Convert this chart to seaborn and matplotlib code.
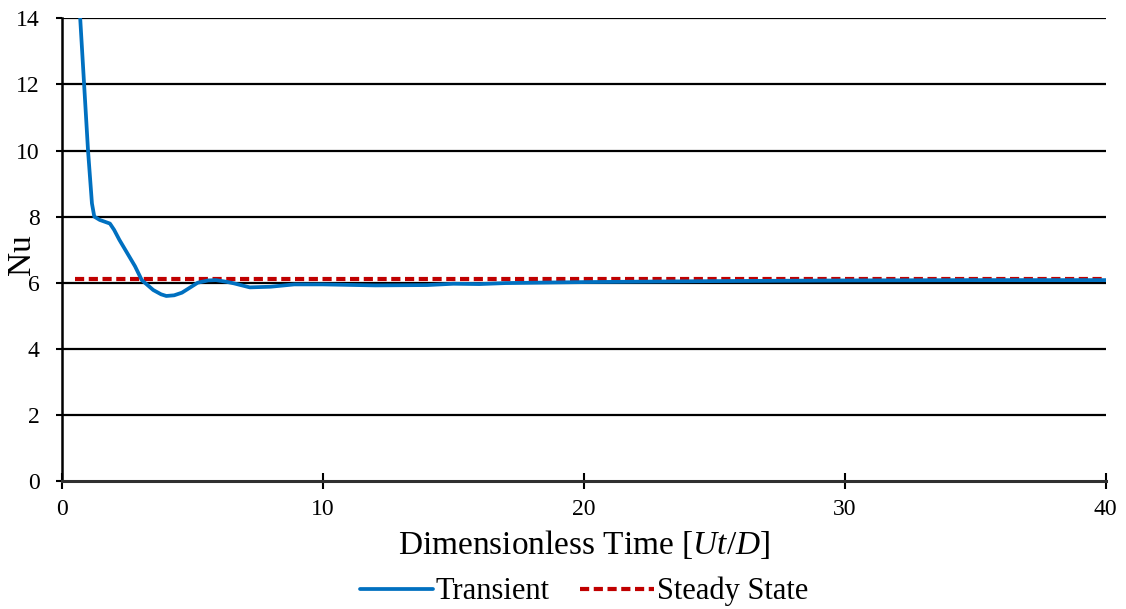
import pandas as pd
import matplotlib
matplotlib.use('Agg')
import matplotlib.pyplot as plt
import seaborn as sns

# values
time = [0.7, 0.85, 1.0, 1.15, 1.24, 1.45, 1.84, 2.0, 2.2, 2.5, 2.8, 3.06, 3.5, 3.8, 4.0, 4.3, 4.6,
        4.9, 5.2, 5.6, 5.9, 6.3, 6.6, 7.2, 8.0, 8.9, 10, 12, 14, 15, 16, 17, 20, 25, 30, 35, 40]
nu_transient = [14.0, 12.0, 10.0, 8.4, 8.0, 7.9, 7.79, 7.6, 7.3, 6.9, 6.5, 6.08, 5.78, 5.65, 5.6, 5.62, 5.7,
                5.85, 6.0, 6.07, 6.08, 6.03, 5.98, 5.86, 5.88, 5.95, 5.95, 5.92, 5.93, 5.97, 5.96, 5.99, 6.02, 6.05, 6.07, 6.08, 6.08]
steady_time = [0.5, 40]
nu_steady = [6.1, 6.1]

sns.set_style('white')
plt.rcParams['font.family'] = ['Liberation Serif', 'DejaVu Serif']
plt.rcParams['mathtext.fontset'] = 'custom'
plt.rcParams['mathtext.rm'] = 'Liberation Serif'
plt.rcParams['mathtext.it'] = 'Liberation Serif:italic'
plt.rcParams['text.color'] = 'black'
plt.rcParams['axes.labelcolor'] = 'black'

df_t = pd.DataFrame({'t': time, 'Nu': nu_transient})
df_s = pd.DataFrame({'t': steady_time, 'Nu': nu_steady})

fig = plt.figure(figsize=(11.26, 6.09), dpi=100)
ax = fig.add_axes([0.055, 0.21, 0.927, 0.76])

for y in range(2, 15, 2):
    ax.axhline(y, color='black', lw=1.6, zorder=1)

sns.lineplot(data=df_s, x='t', y='Nu', ax=ax, color='#C00000', lw=3.0,
             linestyle=(0, (2.2, 1.1)), label='Steady State', zorder=3)
sns.lineplot(data=df_t, x='t', y='Nu', ax=ax, color='#0070C0', lw=2.7,
             label='Transient', zorder=4)

ax.set_xlim(0, 40)
ax.set_ylim(0, 14)
ax.set_xticks([0, 10, 20, 30, 40])
ax.set_yticks(range(0, 15, 2))
ax.tick_params(axis='both', labelsize=17, colors='black')
ax.tick_params(axis='x', direction='inout', length=12, width=1.5, pad=7, bottom=True)
ax.tick_params(axis='y', length=4, width=1.5, pad=12, left=True)

for side in ['top', 'right']:
    ax.spines[side].set_visible(False)
ax.spines['left'].set_color('black')
ax.spines['left'].set_linewidth(1.8)
ax.spines['bottom'].set_color('#303030')
ax.spines['bottom'].set_linewidth(2.2)

ax.set_xlabel('Dimensionless Time [$Ut/D$]', fontsize=24, labelpad=6)
ax.set_ylabel('Nu', fontsize=24)
ax.yaxis.set_label_coords(-0.024, 0.49)

handles, labels = ax.get_legend_handles_labels()
ax.legend(handles[::-1], labels[::-1], loc='lower center', bbox_to_anchor=(0.5, -0.31),
          ncol=2, frameon=False, fontsize=22, handlelength=2.4, handletextpad=0.1,
          columnspacing=1.0, borderpad=0.1)

fig.savefig('out.png', dpi=100)
